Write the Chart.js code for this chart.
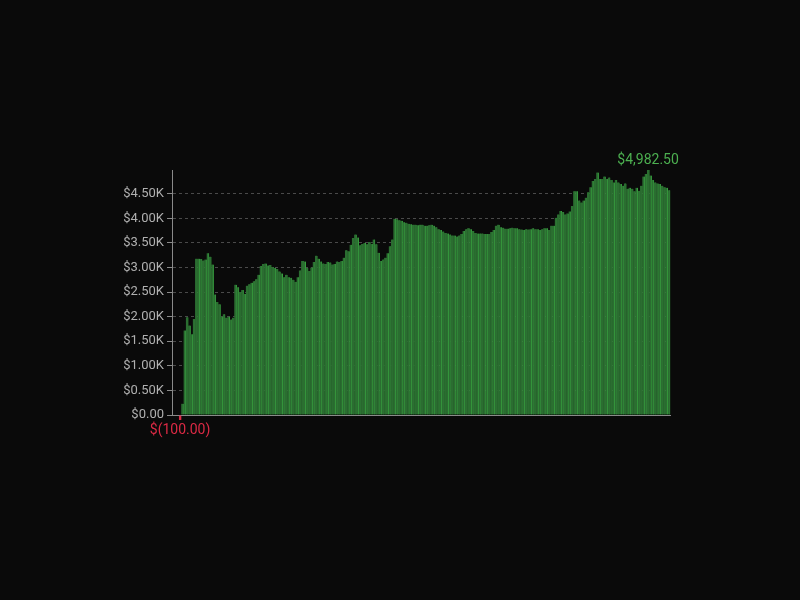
<!DOCTYPE html>
<html>
<head>
<meta charset="utf-8">
<script src="https://cdn.jsdelivr.net/npm/chart.js@4.4.1/dist/chart.umd.min.js"></script>
<style>
  html, body { margin: 0; padding: 0; background: #0a0a0a; }
  #wrap { width: 800px; height: 600px; }
</style>
</head>
<body>
<div id="wrap"><canvas id="equityChart" width="800" height="600"></canvas></div>
<script>
// running balance, one bar per day
const equity = [
    0, 0, 0, -100, 230, 1720, 1990, 1820, 1640, 1950,
    3180, 3180, 3170, 3140, 3160, 3290, 3220, 3060, 2450, 2300,
    2250, 2000, 2050, 1980, 2000, 1940, 1980, 2650, 2600, 2500,
    2540, 2460, 2630, 2660, 2690, 2720, 2760, 2850, 3030, 3070,
    3080, 3040, 3050, 3010, 2990, 2970, 2920, 2880, 2800, 2850,
    2800, 2790, 2750, 2710, 2800, 2940, 3130, 3120, 2990, 2930,
    3000, 3110, 3240, 3180, 3120, 3080, 3070, 3110, 3100, 3060,
    3070, 3120, 3110, 3130, 3200, 3350, 3330, 3460, 3600, 3670,
    3610, 3450, 3480, 3500, 3470, 3520, 3480, 3570, 3470, 3300,
    3130, 3160, 3200, 3290, 3430, 3570, 3990, 3980, 3960, 3950,
    3920, 3910, 3890, 3880, 3870, 3870, 3860, 3870, 3870, 3850,
    3850, 3860, 3870, 3850, 3820, 3780, 3760, 3730, 3700, 3690,
    3670, 3650, 3650, 3630, 3650, 3680, 3740, 3780, 3800, 3780,
    3740, 3700, 3690, 3690, 3690, 3680, 3680, 3680, 3720, 3760,
    3850, 3870, 3820, 3810, 3790, 3790, 3800, 3810, 3800, 3800,
    3780, 3770, 3760, 3780, 3770, 3780, 3800, 3780, 3780, 3760,
    3780, 3800, 3800, 3760, 3850, 3850, 4010, 4080, 4150, 4130,
    4080, 4100, 4140, 4250, 4550, 4550, 4360, 4320, 4360, 4420,
    4530, 4630, 4760, 4800, 4930, 4800, 4800, 4850, 4800, 4830,
    4780, 4730, 4780, 4730, 4700, 4660, 4710, 4600, 4620, 4600,
    4550, 4620, 4560, 4660, 4850, 4900, 4982.5, 4870, 4780, 4730,
    4710, 4700, 4660, 4630, 4620, 4570
];
const days = equity.map((v, i) => 'Day ' + (i + 1));
const yTicks = [0, 500, 1000, 1500, 2000, 2500, 3000, 3500, 4000, 4500];

const maxIndex = equity.indexOf(Math.max(...equity));
const minIndex = equity.indexOf(Math.min(...equity));

function money(v) {
    const s = Math.abs(v).toLocaleString('en-US', {minimumFractionDigits: 2, maximumFractionDigits: 2});
    return v < 0 ? '$(' + s + ')' : '$' + s;
}

// high / low value written next to their bars
const extremaLabels = {
    id: 'extremaLabels',
    afterDatasetsDraw(chart) {
        const meta = chart.getDatasetMeta(0);
        const ctx = chart.ctx;
        const hi = meta.data[maxIndex];
        const lo = meta.data[minIndex];
        ctx.save();
        ctx.font = '14px Roboto';
        ctx.textAlign = 'center';
        ctx.fillStyle = '#4caf50';
        ctx.textBaseline = 'bottom';
        ctx.fillText(money(equity[maxIndex]), hi.x, hi.y - 3);
        ctx.fillStyle = '#dc2a45';
        ctx.textBaseline = 'top';
        ctx.fillText(money(equity[minIndex]), lo.x, chart.chartArea.bottom + 8);
        ctx.restore();
    }
};

const data = {
    labels: days,
    datasets: [{
        data: equity,
        backgroundColor: equity.map(v => v < 0 ? '#dc2a45' : '#2b6d31'),
        borderColor: equity.map(v => v < 0 ? '#dc2a45' : '#45d44f'),
        borderWidth: {left: 0, right: 0.5, top: 0},
        barPercentage: 1,
        categoryPercentage: 1,
        clip: false
    }]
};

const config = {
    type: 'bar',
    data: data,
    plugins: [extremaLabels],
    options: {
        responsive: false,
        animation: false,
        layout: {
            padding: {left: 116, right: 130, top: 170, bottom: 185}
        },
        plugins: {
            legend: {display: false},
            tooltip: {enabled: false}
        },
        scales: {
            x: {
                ticks: {display: false},
                grid: {display: false, drawTicks: false},
                border: {display: true, color: '#8a8a8a', width: 1}
            },
            y: {
                min: 0,
                max: Math.max(...equity),
                afterBuildTicks: scale => {
                    scale.ticks = yTicks.map(v => ({value: v}));
                },
                afterFit: scale => {
                    scale.width = 56;
                    scale.paddingTop = 0;
                    scale.paddingBottom = 0;
                },
                ticks: {
                    color: '#b0b0b0',
                    padding: 3,
                    font: {family: 'Roboto', size: 13},
                    callback: v => v === 0 ? '$0.00' : '$' + (v / 1000).toFixed(2) + 'K'
                },
                grid: {
                    color: '#4a4a4a',
                    tickColor: '#8a8a8a',
                    tickLength: 5
                },
                border: {display: true, color: '#8a8a8a', width: 1, dash: [3, 3]}
            }
        }
    }
};

let equityChart = new Chart(document.getElementById('equityChart'), config);
</script>
</body>
</html>
